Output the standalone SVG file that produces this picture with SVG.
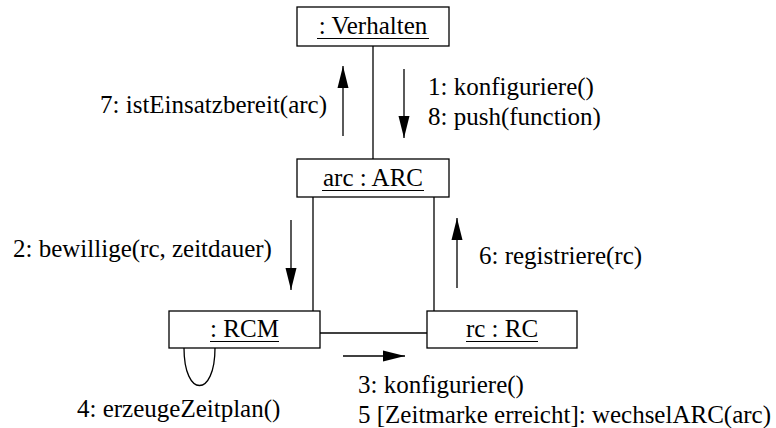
<svg xmlns="http://www.w3.org/2000/svg" width="776" height="428" viewBox="0 0 776 428">
<style>
.box{fill:#fff;stroke:#000;stroke-width:1.3}
.ul{stroke:#000;stroke-width:1.2}
.ln{stroke:#000;stroke-width:1.3;fill:none}
.ar{stroke:#000;stroke-width:1.3;fill:none;marker-end:url(#ah)}
.c{text-anchor:middle}
</style>
<defs>
<marker id="ah" markerUnits="userSpaceOnUse" markerWidth="22" markerHeight="12" refX="22" refY="6" orient="auto">
<path d="M0,0.5 L22,6 L0,11.5 z" fill="#000"/>
</marker>
</defs>
<rect width="776" height="428" fill="#fff"/>
<g font-family="'Times New Roman', 'Liberation Serif', 'DejaVu Serif', serif" font-size="25" fill="#000">
<g id="connectors">
<line class="ln" x1="373" y1="46" x2="373" y2="159"/>
<line class="ln" x1="313" y1="197" x2="313" y2="311"/>
<line class="ln" x1="434" y1="197" x2="434" y2="311"/>
<line class="ln" x1="320" y1="333" x2="427" y2="333"/>
<path class="ln" d="M184,348 C184,398 215,398 215,348"/>
<line class="ar" x1="343" y1="136" x2="343" y2="66"/>
<line class="ar" x1="404" y1="69" x2="404" y2="138"/>
<line class="ar" x1="291" y1="220" x2="291" y2="290"/>
<line class="ar" x1="457" y1="288" x2="457" y2="218"/>
<line class="ar" x1="343" y1="356" x2="405" y2="356"/>
<text x="327" y="113" text-anchor="end">7: istEinsatzbereit(arc)</text>
<text x="428" y="95">1: konfiguriere()</text>
<text x="428" y="125">8: push(function)</text>
<text x="13" y="257">2: bewillige(rc, zeitdauer)</text>
<text x="479" y="264">6: registriere(rc)</text>
<text x="358" y="393">3: konfiguriere()</text>
<text x="358" y="423">5 [Zeitmarke erreicht]: wechselARC(arc)</text>
<text x="77" y="417">4: erzeugeZeitplan()</text>
</g>
<g id="verhalten">
<rect class="box" x="297" y="7" width="152" height="39"/>
<text class="c" x="373" y="34">: Verhalten</text>
<line class="ul" x1="317" y1="38.5" x2="429" y2="38.5"/>
</g>
<g id="arc">
<rect class="box" x="297" y="159" width="152" height="38"/>
<text class="c" x="373" y="186">arc : ARC</text>
<line class="ul" x1="322" y1="190.5" x2="424" y2="190.5"/>
</g>
<g id="rcm">
<rect class="box" x="169" y="311" width="151" height="37"/>
<text class="c" x="244.5" y="337">: RCM</text>
<line class="ul" x1="210" y1="341.5" x2="279" y2="341.5"/>
</g>
<g id="rc">
<rect class="box" x="427" y="311" width="150" height="37"/>
<text class="c" x="502" y="337">rc : RC</text>
<line class="ul" x1="466" y1="341.5" x2="538" y2="341.5"/>
</g>
</g>
</svg>
